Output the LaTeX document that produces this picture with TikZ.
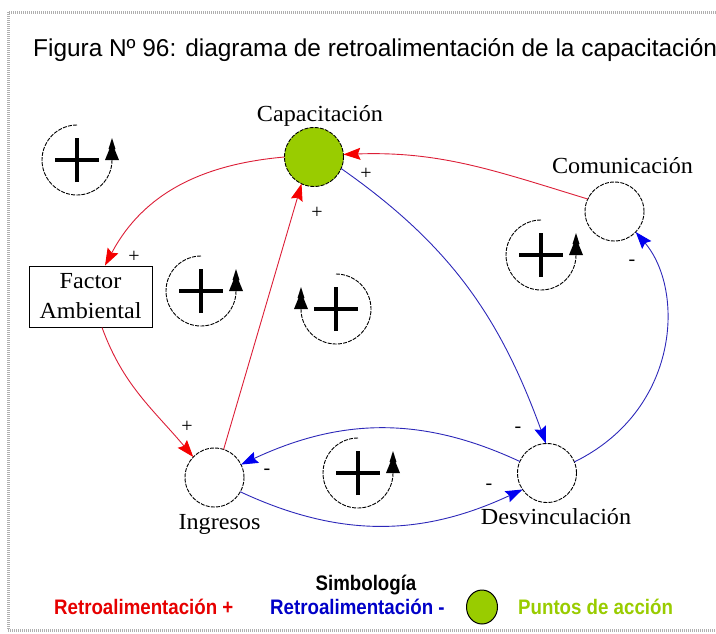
\documentclass[tikz,border=0pt]{standalone}
\usepackage{fontspec}
\setmainfont{Liberation Serif}
\newfontfamily\lblfont[FakeStretch=1.05]{Liberation Serif}
\newfontfamily\titlefont{Liberation Sans}
\newfontfamily\legfont[FakeStretch=0.89]{Liberation Sans}
\usetikzlibrary{arrows.meta,shapes.geometric}
\definecolor{capgreen}{RGB}{153,204,0}
\definecolor{redline}{RGB}{220,30,55}
\definecolor{redtip}{RGB}{245,0,0}
\definecolor{blueline}{RGB}{45,40,185}
\definecolor{bluetip}{RGB}{0,0,240}
\definecolor{legred}{RGB}{230,0,0}
\definecolor{legblue}{RGB}{0,0,200}
\definecolor{framegray}{RGB}{175,175,175}
\tikzset{
  ccwloop/.pic={
    \draw[dash pattern=on 4pt off 1.2pt, line width=0.9pt] (90:35) arc[start angle=90,end angle=360,radius=35];
    \fill (35,22) -- (31.5,11) -- (32.5,11) -- (28,0) -- (42,0) -- (37.5,11) -- (38.5,11) -- cycle;
    \draw[line width=3.5pt] (-22,0) -- (22,0) (0,-22) -- (0,22);
  },
  cwloop/.pic={
    \draw[dash pattern=on 4pt off 1.2pt, line width=0.9pt] (90:35) arc[start angle=90,end angle=-180,radius=35];
    \fill (-35,22) -- (-31.5,11) -- (-32.5,11) -- (-28,0) -- (-42,0) -- (-37.5,11) -- (-38.5,11) -- cycle;
    \draw[line width=3.5pt] (-22,0) -- (22,0) (0,-22) -- (0,22);
  }
}
\begin{document}
\begin{tikzpicture}[x=1pt,y=1pt,
  vnode/.style={circle, draw, dash pattern=on 4pt off 1.2pt, line width=0.9pt, minimum size=59pt, inner sep=0pt, outer sep=0pt},
  lbl/.style={font=\lblfont\fontsize{23}{28}\selectfont, inner sep=0pt, anchor=base},
  pm/.style={font=\fontsize{20}{24}\selectfont, inner sep=0pt},
  legtext/.style={font=\legfont\bfseries\fontsize{21}{24}\selectfont, inner sep=0pt},
  redarrow/.style={draw=redline, line width=0.9pt, -{Stealth[length=17pt,width=12pt,inset=2.5pt,color=redtip]}},
  bluearrow/.style={draw=blueline, line width=0.9pt, -{Stealth[length=17pt,width=12pt,inset=2.5pt,color=bluetip]}}
]
\useasboundingbox (0,0) rectangle (716,-633);
% frame
\draw[framegray, line width=3pt, dash pattern=on 1pt off 1pt] (716,-12) -- (8,-12) -- (8,-630) -- (716,-630);

% title
\node[anchor=base west, font=\titlefont\fontsize{24.4}{28}\selectfont, inner sep=0pt] (title) at (33,-56) {Figura Nº 96: diagrama de retroalimentación de la capacitación};

% nodes
\node[vnode, fill=capgreen] (cap) at (314,-157) {};
\node[vnode] (com) at (614.5,-211.5) {};
\node[vnode] (ing) at (214.5,-477.5) {};
\node[vnode] (des) at (547,-473) {};
\node[draw, line width=0.9pt, minimum width=123pt, minimum height=61pt, inner sep=0pt, align=center,
      font=\lblfont\fontsize{23}{30}\selectfont] (fac) at (90.5,-296.5) {Factor\\Ambiental};

% labels
\node[lbl] (capl) at (320,-121) {Capacitación};
\node[lbl] (coml) at (622.5,-173) {Comunicación};
\node[lbl] (ingl) at (219.5,-529) {Ingresos};
\node[lbl] (desl) at (556,-524) {Desvinculación};

% edges
\draw[redarrow] (cap.west) to[out=185,in=62] ([xshift=14.5pt]fac.north);
\draw[redarrow] (com.155) to[out=163,in=2] (cap.5);
\draw[bluearrow] (cap.-23) to[out=-35,in=110] (des.92);
\draw[bluearrow] (des.22) .. controls (680,-410) and (685,-290) .. (com.-44);
\draw[redarrow] ([xshift=11.5pt]fac.south) to[out=-70,in=130] (ing.136);
\draw[redarrow] (ing.72) -- (cap.245);
\draw[bluearrow] (des.157) to[out=155,in=25] (ing.26);
\draw[bluearrow] (ing.-29) to[out=-25,in=205] (des.214);

% signs
\node[pm] (s1) at (134,-257) {+};
\node[pm] (s2) at (366,-174) {+};
\node[pm] (s3) at (317,-213) {+};
\node[pm] (s4) at (187,-427) {+};
\node[pm] (s5) at (518,-430) {-};
\node[pm] (s6) at (632,-263) {-};
\node[pm] (s7) at (267,-472) {-};
\node[pm] (s8) at (489,-487) {-};

% loop symbols
\pic at (77,-160) {ccwloop};
\pic at (201,-291) {ccwloop};
\pic at (336,-309) {cwloop};
\pic at (541,-255) {ccwloop};
\pic at (358,-473) {ccwloop};

% legend
\node[legtext, anchor=base] (simb) at (366,-590) {Simbología};
\node[legtext, anchor=base west, text=legred] (legr) at (54,-614) {Retroalimentación +};
\node[legtext, anchor=base west, text=legblue] (legb) at (270,-614) {Retroalimentación -};
\node[draw, line width=1pt, fill=capgreen, ellipse, minimum width=31pt, minimum height=34pt, inner sep=0pt] (legdot) at (482,-607) {};
\node[legtext, anchor=base west, text=capgreen] (legg) at (518,-614) {Puntos de acción};
\end{tikzpicture}
\end{document}
